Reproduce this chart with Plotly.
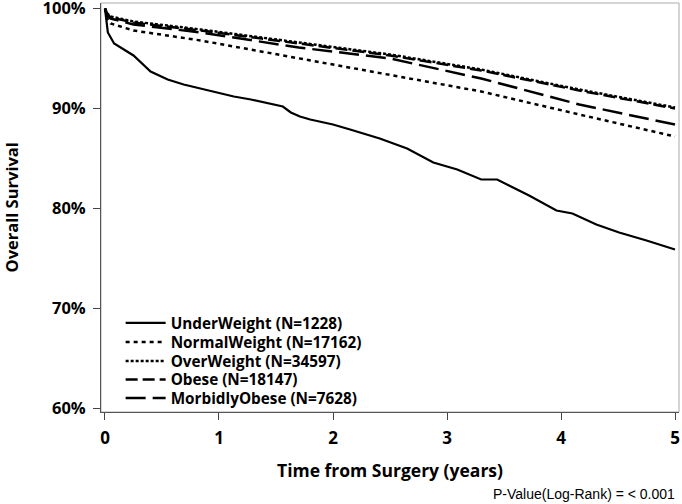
import plotly.graph_objects as go

# Underweight curve
t_uw = [0, 0.01, 0.025, 0.08, 0.15, 0.25, 0.4, 0.55, 0.69, 0.84, 1.0, 1.13, 1.28, 1.45,
        1.56, 1.63, 1.71, 1.8, 2.0, 2.15, 2.41, 2.65, 2.88, 3.09, 3.3, 3.44, 3.58, 3.72,
        3.96, 4.1, 4.31, 4.51, 4.75, 5.0]
s_uw = [100, 98.8, 97.6, 96.5, 96.0, 95.3, 93.7, 92.9, 92.4, 92.0, 91.5, 91.2, 90.9, 90.5,
        90.2, 89.6, 89.2, 88.9, 88.4, 87.9, 87.0, 86.0, 84.6, 83.9, 82.9, 82.9, 82.1, 81.3,
        79.8, 79.5, 78.4, 77.6, 76.8, 75.9]

# Other groups
t_grp = [0, 0.02, 0.05, 0.25, 0.84, 1.7, 2.5, 3.3, 4.16, 5.0]
s_normal = [100, 99.0, 98.5, 97.8, 96.8, 95.0, 93.4, 91.7, 89.4, 87.2]
s_over = [100, 99.5, 99.2, 98.7, 97.9, 96.6, 95.4, 93.9, 91.9, 90.1]
s_obese = [100, 99.4, 99.1, 98.6, 97.8, 96.5, 95.3, 93.8, 91.8, 90.0]
s_morbid = [100, 99.3, 99.0, 98.4, 97.6, 96.1, 95.0, 93.0, 90.4, 88.4]

names = ["UnderWeight (N=1228)", "NormalWeight (N=17162)", "OverWeight (N=34597)",
         "Obese (N=18147)", "MorbidlyObese (N=7628)"]

x_ticks = [0, 1, 2, 3, 4, 5]
y_ticks = [60, 70, 80, 90, 100]
y_ticklabels = ["60%", "70%", "80%", "90%", "100%"]

series = [
    (t_uw, s_uw, "solid", 2.2),
    (t_grp, s_normal, "4px,4px", 2.5),
    (t_grp, s_over, "3px,2px", 2.5),
    (t_grp, s_obese, "12px,5px", 2.5),
    (t_grp, s_morbid, "20px,7px", 2.5),
]

font_family = "Open Sans, DejaVu Sans, sans-serif"

# plot area geometry (pixels)
W, H = 682, 504
L, R, T, B = 101, 3, 3, 92
ph = H - T - B
pw = W - L - R

fig = go.Figure()
legend_ids = ["legend", "legend2", "legend3", "legend4", "legend5"]
row_centers = [323, 342, 361, 379.5, 398]
for (tx, sy, dash, w), nm, lg in zip(series, names, legend_ids):
    fig.add_trace(go.Scatter(x=tx, y=sy, mode="lines", name=nm, legend=lg,
                             line=dict(color="black", width=w, dash=dash)))

legend_layout = {}
for lg, yc in zip(legend_ids, row_centers):
    legend_layout[lg] = dict(x=0.034, y=(H - B - yc) / ph, xanchor="left", yanchor="middle",
                             bgcolor="rgba(0,0,0,0)", borderwidth=0,
                             font=dict(size=15.3, family=font_family, weight="bold"),
                             itemwidth=40)

fig.update_layout(
    width=W, height=H,
    margin=dict(l=L, r=R, t=T, b=B, autoexpand=False),
    paper_bgcolor="white", plot_bgcolor="white",
    font=dict(family=font_family, color="black"),
    showlegend=True,
    xaxis=dict(range=[-0.035, 5.035], tickvals=x_ticks,
               ticktext=[str(v) for v in x_ticks], automargin=False,
               showgrid=False, zeroline=False, showline=True, linecolor="#555",
               linewidth=1, ticks="outside", ticklen=7, tickcolor="#444",
               ticklabeloverflow="allow", ticklabelstandoff=4,
               tickfont=dict(size=17, family=font_family, weight="bold")),
    yaxis=dict(range=[59.65, 100.55], tickvals=y_ticks, ticktext=y_ticklabels,
               automargin=False,
               showgrid=False, zeroline=False, showline=True, linecolor="#555",
               linewidth=1, ticks="outside", ticklen=7, tickcolor="#444",
               ticklabeloverflow="allow", ticklabelstandoff=4,
               tickfont=dict(size=16.5, family=font_family, weight="bold")),
    **legend_layout,
)

# light frame on top and right
fig.add_shape(type="rect", xref="paper", yref="paper", x0=0, y0=0, x1=1, y1=1,
              line=dict(color="#aaa", width=1), layer="below")

fig.add_annotation(text="Time from Surgery (years)", xref="paper", yref="paper",
                   x=0.5, y=(H - B - 470) / ph, xanchor="center", yanchor="middle",
                   showarrow=False,
                   font=dict(size=17.5, family=font_family, weight="bold"))
fig.add_annotation(text="Overall Survival", xref="paper", yref="paper",
                   x=(11 - L) / pw, y=0.5, xanchor="center", yanchor="middle",
                   textangle=-90, showarrow=False,
                   font=dict(size=16.5, family=font_family, weight="bold"))
fig.add_annotation(text="P-Value(Log-Rank) = < 0.001", xref="paper", yref="paper",
                   x=(677 - L) / pw, y=(H - B - 494) / ph, xanchor="right", yanchor="middle",
                   showarrow=False,
                   font=dict(size=14, family="Liberation Sans, Arial, sans-serif"))

fig.write_html("out.html", config={"displayModeBar": False},
               post_script="document.body.style.margin='0';document.body.style.overflow='hidden';")
